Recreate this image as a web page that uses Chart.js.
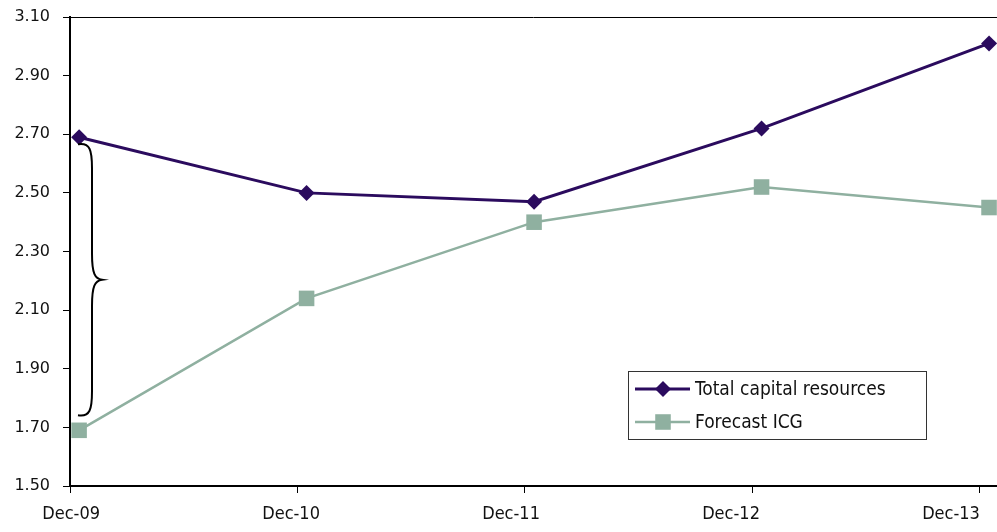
<!DOCTYPE html>
<html>
<head>
<meta charset="utf-8">
<script src="https://cdn.jsdelivr.net/npm/chart.js@4/dist/chart.umd.min.js"></script>
<style>
  html, body { margin: 0; padding: 0; background: #fff; }
  #wrap { width: 997px; height: 532px; }
</style>
</head>
<body>
<div id="wrap"><canvas id="c" width="997" height="532"></canvas></div>
<script>
// Year-end periods on the horizontal axis
const periods = ['Dec-09', 'Dec-10', 'Dec-11', 'Dec-12', 'Dec-13'];
// Series values (£bn)
const totalCapital = [2.69, 2.50, 2.47, 2.72, 3.01];
const forecastICG = [1.69, 2.14, 2.40, 2.52, 2.45];
// Vertical axis ticks
const yTicks = [1.50, 1.70, 1.90, 2.10, 2.30, 2.50, 2.70, 2.90, 3.10];
// Points sit mid-month, slightly after each period tick
const monthOffset = 0.04;

const purple = '#2B0B5E';
const sage = '#8FB0A0';
const yFont = { family: '"DejaVu Sans"', size: 16 };
const xFont = { family: '"DejaVu Sans Condensed", "DejaVu Sans"', size: 18 };
const legendFont = '19px "DejaVu Sans Condensed", "DejaVu Sans"';

const toPoints = vals => vals.map((v, i) => ({ x: i + monthOffset, y: v }));

// Keep scale label overhang from shrinking the plot area
const noOverhang = s => {
  s.paddingLeft = 0; s.paddingRight = 0; s.paddingTop = 0; s.paddingBottom = 0;
};

// Plot frame top line
const frameTop = {
  id: 'frameTop',
  afterDraw(chart) {
    const { ctx, chartArea } = chart;
    ctx.save();
    ctx.strokeStyle = '#000';
    ctx.lineWidth = 1;
    ctx.beginPath();
    ctx.moveTo(chartArea.left, chartArea.top + 0.5);
    ctx.lineTo(chartArea.right, chartArea.top + 0.5);
    ctx.stroke();
    ctx.restore();
  }
};

// Curly brace spanning the gap between the two series at the first period
const gapBrace = {
  id: 'gapBrace',
  afterDatasetsDraw(chart) {
    const { ctx } = chart;
    const xs = chart.scales.x, ys = chart.scales.y;
    const x0 = xs.getPixelForValue(0);
    const top = ys.getPixelForValue(totalCapital[0]) + 7;
    const bot = ys.getPixelForValue(forecastICG[0]) - 15;
    const mid = (top + bot) / 2;
    const xe = x0 + 8, xl = x0 + 22, xt = x0 + 32;
    ctx.save();
    ctx.strokeStyle = '#000';
    ctx.lineWidth = 2;
    ctx.beginPath();
    ctx.moveTo(xe, top);
    ctx.bezierCurveTo(xe + 12, top - 2, xl, top + 6, xl, top + 24);
    ctx.lineTo(xl, mid - 26);
    ctx.bezierCurveTo(xl, mid - 6, xl + 3, mid - 1, xt, mid);
    ctx.bezierCurveTo(xl + 3, mid + 1, xl, mid + 6, xl, mid + 26);
    ctx.lineTo(xl, bot - 24);
    ctx.bezierCurveTo(xl, bot - 6, xe + 12, bot + 2, xe, bot);
    ctx.stroke();
    ctx.restore();
  }
};

// Boxed legend inside the plot area
const boxLegend = {
  id: 'boxLegend',
  afterDraw(chart) {
    const { ctx, chartArea } = chart;
    const left = chartArea.left + 558, top = 371, w = 298, h = 68;
    ctx.save();
    ctx.fillStyle = '#fff';
    ctx.fillRect(left, top, w, h);
    ctx.strokeStyle = '#333';
    ctx.lineWidth = 1;
    ctx.strokeRect(left + 0.5, top + 0.5, w, h);
    ctx.font = legendFont;
    ctx.textBaseline = 'middle';
    chart.data.datasets.forEach((ds, i) => {
      const y = top + 18 + i * 33;
      ctx.strokeStyle = ds.borderColor;
      ctx.lineWidth = ds.borderWidth;
      ctx.beginPath();
      ctx.moveTo(left + 7, y);
      ctx.lineTo(left + 62, y);
      ctx.stroke();
      ctx.fillStyle = ds.pointBackgroundColor;
      Chart.helpers.drawPoint(ctx, {
        pointStyle: ds.pointStyle, radius: ds.pointRadius, rotation: 0, borderWidth: 0
      }, left + 35, y);
      ctx.fillStyle = '#111';
      ctx.fillText(ds.label, left + 67, y + 1);
    });
    ctx.restore();
  }
};

new Chart(document.getElementById('c'), {
  type: 'line',
  data: {
    datasets: [
      {
        label: 'Total capital resources',
        data: toPoints(totalCapital),
        borderColor: purple,
        backgroundColor: purple,
        pointBackgroundColor: purple,
        pointBorderColor: purple,
        borderWidth: 3,
        pointStyle: 'rectRot',
        pointRadius: 8,
        pointBorderWidth: 0,
        tension: 0,
        clip: false
      },
      {
        label: 'Forecast ICG',
        data: toPoints(forecastICG),
        borderColor: sage,
        backgroundColor: sage,
        pointBackgroundColor: sage,
        pointBorderColor: sage,
        borderWidth: 2.5,
        pointStyle: 'rect',
        pointRadius: 11,
        pointBorderWidth: 0,
        tension: 0,
        clip: false
      }
    ]
  },
  options: {
    responsive: false,
    animation: false,
    layout: { autoPadding: false, padding: { top: 17, right: 0, left: 0, bottom: 0 } },
    plugins: { legend: { display: false }, tooltip: { enabled: false } },
    scales: {
      x: {
        type: 'linear',
        position: 'bottom',
        min: 0,
        max: 4.075,
        afterBuildTicks: s => { s.ticks = periods.map((p, i) => ({ value: i })); },
        afterFit: s => { s.height = 7; noOverhang(s); },
        ticks: { display: false },
        grid: { drawOnChartArea: false, drawTicks: true, tickLength: 7, color: '#000', lineWidth: 1 },
        border: { color: '#000', width: 2 }
      },
      xl: {
        type: 'linear',
        position: 'bottom',
        min: -0.005,
        max: 4.209,
        afterBuildTicks: s => { s.ticks = periods.map((p, i) => ({ value: i })); },
        afterFit: s => { s.height = 39; noOverhang(s); },
        ticks: {
          callback: (v) => periods[Math.round(v)],
          font: xFont,
          color: '#111',
          padding: 3,
          maxRotation: 0,
          autoSkip: false
        },
        grid: { display: false },
        border: { display: false }
      },
      y: {
        min: 1.5,
        max: 3.1,
        afterBuildTicks: s => { s.ticks = yTicks.map(v => ({ value: v })); },
        afterFit: s => { s.width = 70; noOverhang(s); },
        ticks: {
          callback: v => Number(v).toFixed(2),
          font: yFont,
          color: '#111',
          padding: 13
        },
        grid: { drawOnChartArea: false, drawTicks: true, tickLength: 7, color: '#000', lineWidth: 1 },
        border: { color: '#000', width: 2 }
      }
    }
  },
  plugins: [frameTop, gapBrace, boxLegend]
});
</script>
</body>
</html>
